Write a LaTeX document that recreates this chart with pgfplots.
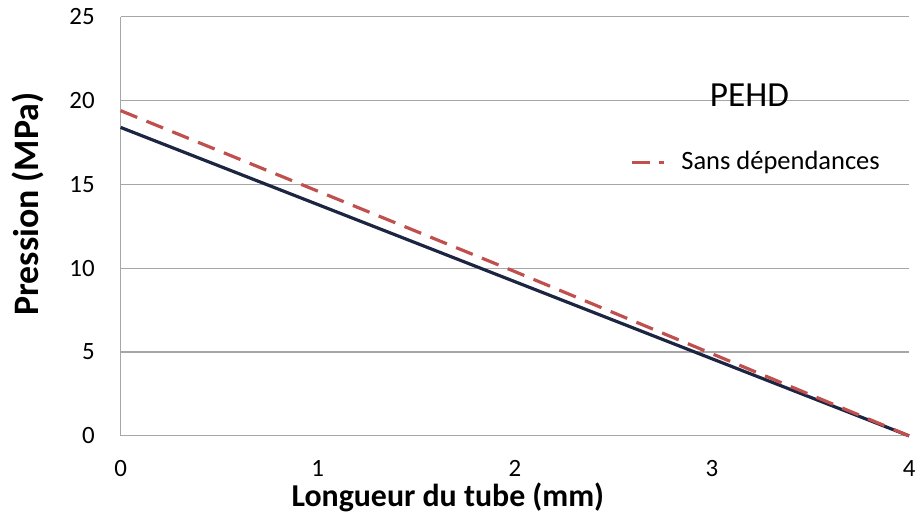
\documentclass[border=0pt]{standalone}
\usepackage{pgfplots}
\pgfplotsset{compat=1.18}
\usepackage{fontspec}
\setmainfont{Carlito}
\definecolor{navy}{HTML}{1C2541}
\definecolor{exred}{HTML}{C0504D}
\definecolor{gridgray}{HTML}{A6A6A6}
\begin{document}
\begin{tikzpicture}
\begin{axis}[
  scale only axis,
  width=396pt, height=210.5pt,
  xmin=0, xmax=4, ymin=0, ymax=25,
  xtick={0,1,2,3,4}, ytick={0,5,10,15,20,25},
  /pgf/number format/assume math mode=true,
  major tick length=0pt,
  axis x line*=bottom, axis y line*=left,
  axis line style={gridgray, line width=0.6pt},
  ymajorgrids, grid style={gridgray, line width=0.6pt},
  tick label style={font=\fontsize{12.5}{14}\selectfont},
  xticklabel style={yshift=-9pt},
  yticklabel style={xshift=-9.5pt},
  xlabel={Longueur du tube (mm)},
  ylabel={Pression (MPa)},
  xlabel style={font=\fontsize{16}{19}\selectfont\bfseries, at={(axis description cs:0.415,-0.147)}, anchor=center},
  ylabel style={font=\fontsize{18}{21}\selectfont\bfseries, at={(axis description cs:-0.118,0.553)}, anchor=center},
  legend style={draw=none, fill=none, at={(axis description cs:0.638,0.653)}, anchor=west, font=\fontsize{13.3}{16}\selectfont, legend cell align=left},
  legend image code/.code={\draw[#1] (0cm,0cm) -- (0.58cm,0cm); \path (0.78cm,0cm);},
  clip=false,
]
\addplot[navy, line width=1.6pt, forget plot] coordinates {(0,18.4) (1,13.8) (2,9.2) (3,4.6) (4,0)};
\addplot[exred, line width=1.6pt, dash pattern=on 9pt off 5pt] coordinates {(0,19.4) (1,14.6) (2,9.8) (3,4.9) (4,0)};
\addlegendentry{Sans dépendances}
\node[font=\fontsize{17.7}{20}\selectfont] at (axis cs:3.19,20.35) {PEHD};
\path (rel axis cs:-0.153,-0.214) (rel axis cs:1.011,1.04);
\end{axis}
\end{tikzpicture}
\end{document}
